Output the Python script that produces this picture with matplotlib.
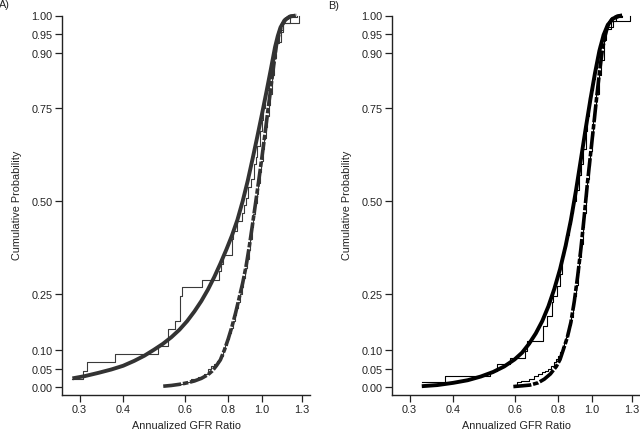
import matplotlib
matplotlib.use('Agg')
import matplotlib.pyplot as plt
from matplotlib.ticker import FixedLocator, FixedFormatter, NullLocator

plt.rcParams['font.family'] = ['Liberation Sans', 'DejaVu Sans']

# ---- data ----
y_ticks = [0.00, 0.05, 0.10, 0.25, 0.50, 0.75, 0.90, 0.95, 1.00]
y_tick_labels = ['0.00', '0.05', '0.10', '0.25', '0.50', '0.75', '0.90', '0.95', '1.00']
x_ticks = [0.3, 0.4, 0.6, 0.8, 1.0, 1.3]
x_tick_labels = ['0.3', '0.4', '0.6', '0.8', '1.0', '1.3']

# Panel A: fitted curves
a_fit1_x = [0.286, 0.31, 0.34, 0.37, 0.40, 0.43, 0.46, 0.49, 0.52, 0.55,
            0.58, 0.61, 0.64, 0.67, 0.70, 0.73, 0.76, 0.79, 0.82, 0.85,
            0.88, 0.91, 0.94, 0.97, 1.00, 1.03, 1.06, 1.09, 1.11, 1.13,
            1.16, 1.20, 1.25]
a_fit1_y = [0.024, 0.030, 0.039, 0.048, 0.058, 0.071, 0.085, 0.101, 0.117, 0.135,
            0.155, 0.178, 0.204, 0.232, 0.263, 0.297, 0.333, 0.370, 0.408, 0.450,
            0.500, 0.555, 0.615, 0.675, 0.735, 0.795, 0.855, 0.915, 0.945, 0.968,
            0.987, 0.997, 1.000]
a_fit2_x = [0.521, 0.55, 0.58, 0.61, 0.64, 0.67, 0.70, 0.72, 0.74, 0.76,
            0.78, 0.80, 0.82, 0.84, 0.86, 0.88, 0.90, 0.92, 0.94, 0.96,
            0.98, 1.00, 1.02, 1.04, 1.06, 1.08, 1.10, 1.12, 1.14, 1.17,
            1.21, 1.26]
a_fit2_y = [0.003, 0.005, 0.008, 0.012, 0.017, 0.024, 0.034, 0.044, 0.058, 0.074,
            0.100, 0.130, 0.163, 0.200, 0.240, 0.280, 0.325, 0.380, 0.440, 0.500,
            0.560, 0.620, 0.682, 0.745, 0.805, 0.865, 0.920, 0.952, 0.973, 0.990,
            0.998, 1.000]

# Panel A: empirical distributions
a_emp1_x = [0.286, 0.306, 0.314, 0.378, 0.504, 0.538, 0.563, 0.582, 0.590, 0.671,
            0.754, 0.765, 0.774, 0.818, 0.827, 0.846, 0.875, 0.890, 0.900, 0.910,
            0.930, 0.950, 0.960, 0.970, 0.990, 1.000, 1.010, 1.020, 1.030, 1.050,
            1.070, 1.080, 1.090, 1.100, 1.130, 1.150, 1.280]
a_emp1_y = [0.023, 0.045, 0.067, 0.090, 0.112, 0.157, 0.179, 0.246, 0.269, 0.289,
            0.314, 0.332, 0.356, 0.399, 0.421, 0.448, 0.470, 0.490, 0.510, 0.540,
            0.560, 0.600, 0.620, 0.650, 0.690, 0.720, 0.750, 0.780, 0.800, 0.840,
            0.870, 0.890, 0.910, 0.930, 0.960, 0.980, 1.000]
a_emp2_x = [0.570, 0.600, 0.625, 0.655, 0.680, 0.700, 0.715, 0.730, 0.745, 0.760,
            0.775, 0.785, 0.795, 0.805, 0.815, 0.825, 0.835, 0.845, 0.855, 0.865,
            0.875, 0.885, 0.895, 0.905, 0.915, 0.925, 0.935, 0.945, 0.955, 0.965,
            0.975, 0.985, 0.995, 1.005, 1.015, 1.025, 1.035, 1.045, 1.055, 1.070,
            1.085, 1.100, 1.120, 1.150, 1.200, 1.260]
a_emp2_y = [0.009, 0.015, 0.022, 0.027, 0.036, 0.049, 0.058, 0.063, 0.072, 0.085,
            0.100, 0.115, 0.130, 0.145, 0.160, 0.178, 0.195, 0.212, 0.230, 0.250,
            0.270, 0.295, 0.320, 0.345, 0.370, 0.400, 0.430, 0.465, 0.495, 0.520,
            0.550, 0.580, 0.610, 0.640, 0.670, 0.700, 0.730, 0.760, 0.790, 0.840,
            0.885, 0.925, 0.955, 0.980, 0.995, 1.000]

# Panel B: fitted curves
b_fit1_x = [0.325, 0.36, 0.40, 0.44, 0.48, 0.52, 0.56, 0.60, 0.63, 0.66,
            0.69, 0.72, 0.75, 0.78, 0.81, 0.84, 0.87, 0.90, 0.93, 0.96,
            0.99, 1.02, 1.05, 1.08, 1.11, 1.15, 1.20, 1.22]
b_fit1_y = [0.003, 0.006, 0.012, 0.019, 0.029, 0.041, 0.056, 0.075, 0.093, 0.117,
            0.145, 0.178, 0.218, 0.265, 0.318, 0.380, 0.450, 0.530, 0.615, 0.698,
            0.775, 0.845, 0.905, 0.948, 0.975, 0.992, 0.999, 1.000]
b_fit2_x = [0.595, 0.63, 0.664, 0.70, 0.73, 0.76, 0.79, 0.81, 0.83, 0.85,
            0.87, 0.89, 0.91, 0.93, 0.95, 0.97, 0.99, 1.01, 1.03, 1.05,
            1.07, 1.09, 1.11, 1.14, 1.18, 1.22]
b_fit2_y = [0.002, 0.004, 0.006, 0.012, 0.022, 0.036, 0.056, 0.075, 0.105, 0.135,
            0.175, 0.232, 0.300, 0.375, 0.460, 0.548, 0.625, 0.700, 0.775, 0.845,
            0.905, 0.945, 0.972, 0.990, 0.998, 1.000]

# Panel B: empirical distributions
b_emp1_x = [0.325, 0.379, 0.510, 0.533, 0.582, 0.642, 0.650, 0.725, 0.741, 0.766,
            0.774, 0.792, 0.810, 0.818, 0.830, 0.845, 0.860, 0.872, 0.885, 0.900,
            0.915, 0.930, 0.945, 0.960, 0.970, 0.980, 0.995, 1.005, 1.020, 1.035,
            1.050, 1.070, 1.100, 1.150, 1.285]
b_emp1_y = [0.015, 0.031, 0.045, 0.063, 0.078, 0.098, 0.125, 0.166, 0.193, 0.229,
            0.246, 0.273, 0.305, 0.354, 0.380, 0.410, 0.440, 0.470, 0.500, 0.530,
            0.570, 0.600, 0.640, 0.690, 0.730, 0.780, 0.800, 0.830, 0.860, 0.890,
            0.920, 0.950, 0.970, 0.985, 1.000]
b_emp2_x = [0.600, 0.610, 0.625, 0.660, 0.680, 0.700, 0.720, 0.735, 0.750, 0.765,
            0.780, 0.790, 0.800, 0.810, 0.820, 0.830, 0.840, 0.850, 0.860, 0.870,
            0.880, 0.890, 0.900, 0.910, 0.920, 0.930, 0.940, 0.950, 0.960, 0.970,
            0.980, 0.990, 1.000, 1.010, 1.020, 1.030, 1.045, 1.060, 1.080, 1.100,
            1.130, 1.170, 1.220]
b_emp2_y = [0.006, 0.015, 0.018, 0.022, 0.031, 0.036, 0.040, 0.045, 0.050, 0.058,
            0.068, 0.075, 0.085, 0.095, 0.108, 0.120, 0.135, 0.150, 0.168, 0.190,
            0.215, 0.245, 0.275, 0.310, 0.350, 0.385, 0.430, 0.470, 0.515, 0.560,
            0.595, 0.635, 0.675, 0.720, 0.760, 0.790, 0.840, 0.880, 0.935, 0.965,
            0.985, 0.995, 1.000]

fs = 7.8
fig = plt.figure(figsize=(6.4, 4.31), dpi=100)

W, H = 640.0, 431.0
ax_a = fig.add_axes([62 / W, 35 / H, 248 / W, 379.5 / H])
ax_b = fig.add_axes([392 / W, 35 / H, 248 / W, 379.5 / H])

dashdot = (0, (5, 0.5, 1.5, 0.5))

panels = [
    (ax_a, '#333333', '#3a3a3a', a_fit1_x, a_fit1_y, a_fit2_x, a_fit2_y,
     a_emp1_x, a_emp1_y, a_emp2_x, a_emp2_y),
    (ax_b, 'black', 'black', b_fit1_x, b_fit1_y, b_fit2_x, b_fit2_y,
     b_emp1_x, b_emp1_y, b_emp2_x, b_emp2_y),
]

for ax, c_fit, c_emp, f1x, f1y, f2x, f2y, e1x, e1y, e2x, e2y in panels:
    ax.step(e1x, e1y, where='post', color=c_emp, linewidth=0.8, clip_on=False)
    ax.step(e2x, e2y, where='post', color=c_emp, linewidth=0.8, clip_on=False)
    ax.plot(f1x, f1y, color=c_fit, linewidth=2.8, solid_capstyle='butt',
            solid_joinstyle='round', clip_on=False)
    ax.plot(f2x, f2y, color=c_fit, linewidth=2.6, linestyle=dashdot, clip_on=False)

    ax.set_xscale('log')
    ax.set_xlim(0.267, 1.373)
    ax.set_ylim(-0.0207, 1.0)
    ax.xaxis.set_major_locator(FixedLocator(x_ticks))
    ax.xaxis.set_major_formatter(FixedFormatter(x_tick_labels))
    ax.xaxis.set_minor_locator(NullLocator())
    ax.set_yticks(y_ticks)
    ax.set_yticklabels(y_tick_labels)

    for s in ['top', 'right']:
        ax.spines[s].set_visible(False)
    for s in ['left', 'bottom']:
        ax.spines[s].set_linewidth(1.0)
        ax.spines[s].set_color('#222222')
    ax.tick_params(axis='both', length=4.8, width=0.9, pad=2, labelsize=fs,
                   colors='#222222')

# axis titles and panel letters
for x0 in [62, 392]:
    fig.text((x0 + 124) / W, 1 - 426 / H, 'Annualized GFR Ratio',
             ha='center', va='center', fontsize=fs, color='#222222')
    fig.text((x0 - 44.5) / W, 1 - 205.5 / H, 'Cumulative Probability',
             rotation=90, ha='center', va='center', fontsize=fs, color='#222222')

fig.text(-0.002, 1 - 5 / H, 'A)', ha='left', va='center', fontsize=fs, color='#222222')
fig.text(328 / W, 1 - 6 / H, 'B)', ha='left', va='center', fontsize=fs, color='#222222')

fig.savefig('out.png', dpi=100)
